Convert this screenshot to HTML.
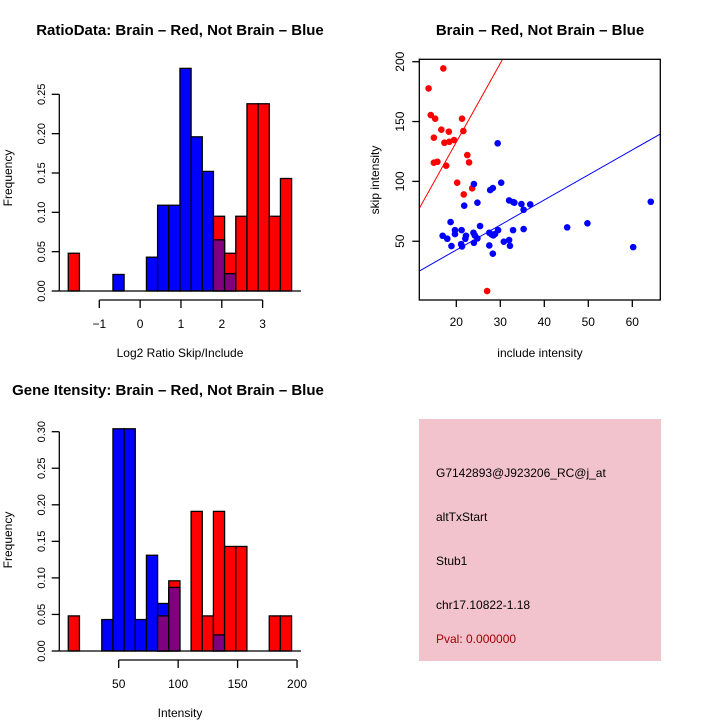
<!DOCTYPE html>
<html><head><meta charset="utf-8"><style>
body{margin:0;background:#fff}
svg{display:block;font-family:"Liberation Sans",sans-serif}
</style></head><body>
<svg id="s" width="720" height="720" viewBox="0 0 720 720">
<rect width="720" height="720" fill="#fff"/>
<text x="180" y="35" font-size="15" font-weight="bold" text-anchor="middle">RatioData: Brain – Red, Not Brain – Blue</text>
<text x="540" y="35" font-size="15" font-weight="bold" text-anchor="middle">Brain – Red, Not Brain – Blue</text>
<text x="168" y="395" font-size="15" font-weight="bold" text-anchor="middle">Gene Itensity: Brain – Red, Not Brain – Blue</text>
<text x="180" y="357" font-size="12" text-anchor="middle">Log2 Ratio Skip/Include</text>
<text x="540" y="357" font-size="12" text-anchor="middle">include intensity</text>
<text x="180" y="717" font-size="12" text-anchor="middle">Intensity</text>
<text transform="translate(12,178) rotate(-90)" font-size="12" text-anchor="middle">Frequency</text>
<text transform="translate(12,540) rotate(-90)" font-size="12" text-anchor="middle">Frequency</text>
<text transform="translate(379,180) rotate(-90)" font-size="12" text-anchor="middle">skip intensity</text>
<g id="h1"></g>
<g id="h2"></g>
<g id="sc"></g>
<g>
<rect x="419" y="419" width="242" height="242" fill="#f2c3cd"/>
<text x="436" y="477" font-size="12">G7142893@J923206_RC@j_at</text>
<text x="436" y="521" font-size="12">altTxStart</text>
<text x="436" y="565" font-size="12">Stub1</text>
<text x="436" y="609" font-size="12">chr17.10822-1.18</text>
<text x="436" y="643" font-size="12" fill="#a00000">Pval: 0.000000</text>
</g>
</svg>
<script>
const ratioRed=[0.048,0,0,0,0,0,0,0,0,0,0,0,0,0.095,0.048,0.095,0.238,0.238,0.095,0.143];
const ratioBlue=[0,0,0,0,0.021,0,0,0.043,0.109,0.109,0.283,0.196,0.152,0.065,0.022,0,0,0,0,0];
const ratioStart=-1.76, ratioWidth=0.2735;
const ratioXTicks=[-1,0,1,2,3];
const ratioYTicks=[0,0.05,0.10,0.15,0.20,0.25];
const intRed=[0.048,0,0,0,0,0,0,0,0.048,0.096,0,0.191,0.048,0.191,0.143,0.143,0,0,0.048,0.048];
const intBlue=[0,0,0,0.043,0.304,0.304,0.043,0.131,0.065,0.087,0,0,0,0.022,0,0,0,0,0,0];
const intStart=7.6, intWidth=9.39;
const intXTicks=[50,100,150,200];
const intYTicks=[0,0.05,0.10,0.15,0.20,0.25,0.30];
const redX=[17.05,13.7,14.2,15.2,14.9,16.6,18.3,17.3,18.4,19.5,21.3,21.6,14.9,15.7,17.7,22.5,22.9,20.2,21.7,23.6,27.0];
const redY=[194.4,177.7,155.4,152.4,136.5,143.2,141.5,132.3,133.1,134.5,152.4,142.1,115.6,116.4,113.1,122.0,115.9,98.9,89.1,94.2,8.4];
const blueX=[29.4,24.0,30.2,27.7,28.3,24.8,21.8,32.0,32.95,33.2,34.8,35.3,36.8,18.7,19.7,19.7,21.2,16.9,17.95,18.9,21.1,21.3,22.2,22.05,25.4,23.9,24.2,24.8,24.0,27.5,27.5,28.0,28.4,28.8,29.5,28.3,30.8,32.0,32.2,32.9,35.3,45.2,49.8,60.2,64.2];
const blueY=[131.8,97.8,98.9,92.8,94.4,82.2,79.7,84.1,82.7,82.2,81.1,76.3,80.8,66.0,59.3,56.0,59.3,54.6,52.1,46.0,47.6,45.7,54.6,52.1,62.7,57.1,54.9,52.4,48.7,46.5,57.1,55.7,54.9,56.0,59.3,39.6,49.6,51.0,46.2,59.3,60.2,61.6,65.0,45.1,83.0];
const redFit=[1.2,6.58], blueFit=[0.9,2.09];
const scXTicks=[20,30,40,50,60];
const scYTicks=[50,100,150,200];
const NS='http://www.w3.org/2000/svg';
function mk(p,t,a){const e=document.createElementNS(NS,t);for(const k in a)e.setAttribute(k,a[k]);p.appendChild(e);return e;}
function hist(g,red,blue,start,w,xt,yt,X,Y,base,axisY,xlab,ylab){
  const n=red.length;
  for(let i=0;i<n;i++){
    const x0=X(start+i*w),x1=X(start+(i+1)*w);
    const r=red[i],b=blue[i];
    if(r>0){const e=mk(g,'rect',{x:x0,y:Y(r),width:x1-x0,height:base-Y(r),fill:'#ff0000',stroke:'#000','stroke-width':1.3});
      
      }
    if(b>0){const e=mk(g,'rect',{x:x0,y:Y(b),width:x1-x0,height:base-Y(b),fill:r>0&&b<=r?'#800080':'#0000ff',stroke:'#000','stroke-width':1.3});
      
      
      if(r>0&&b>r){const p=mk(g,'rect',{x:x0,y:Y(r),width:x1-x0,height:base-Y(r),fill:'#800080',stroke:'#000','stroke-width':1.3});
        
        }}
  }
  mk(g,'line',{x1:59.3,x2:301,y1:base,y2:base,stroke:'#000','stroke-width':1.3});
  mk(g,'line',{x1:59.3,x2:59.3,y1:Y(yt[0]),y2:Y(yt[yt.length-1]),stroke:'#000','stroke-width':1.3});
  yt.forEach((v,i)=>{mk(g,'line',{x1:51.7,x2:59.3,y1:Y(v),y2:Y(v),stroke:'#000','stroke-width':1.3});
    const t=mk(g,'text',{transform:`translate(45,${Y(v)}) rotate(-90)`,'font-size':11,'text-anchor':'middle'});t.textContent=ylab[i];
    
    });
  mk(g,'line',{x1:X(xt[0]),x2:X(xt[xt.length-1]),y1:axisY,y2:axisY,stroke:'#000','stroke-width':1.3});
  xt.forEach((v,i)=>{mk(g,'line',{x1:X(v),x2:X(v),y1:axisY,y2:axisY+8,stroke:'#000','stroke-width':1.3});
    const t=mk(g,'text',{x:X(v),y:axisY+28,'font-size':12,'text-anchor':'middle'});t.textContent=xlab[i];
    
    });
}
const fmt2=v=>v.toFixed(2);
hist(document.getElementById('h1'),ratioRed,ratioBlue,ratioStart,ratioWidth,ratioXTicks,ratioYTicks,
  v=>99.3+(v+1)*40.83, v=>291-v*786.7, 291, 300, ratioXTicks.map(v=>v<0?'−'+(-v):''+v), ratioYTicks.map(fmt2));
hist(document.getElementById('h2'),intRed,intBlue,intStart,intWidth,intXTicks,intYTicks,
  v=>118.7+(v-50)*1.189, v=>651-v*731, 651, 660, intXTicks.map(String), intYTicks.map(fmt2));
// scatter
const g=document.getElementById('sc');
const SX=v=>456.3+(v-20)*4.4, SY=v=>61.7+(200-v)*1.197;
const L=419.3,R=660.3,T=59.3,B=300;
mk(g,'defs',{}).innerHTML='<clipPath id="cp"><rect x="419.3" y="59.3" width="241" height="240.7"/></clipPath>';
const x0=11.59,x1=66.36;
[[redFit,'#ff0000','red-fit-line'],[blueFit,'#0000ff','blue-fit-line']].forEach(([f,c,n])=>{
  const e=mk(g,'line',{x1:SX(x0),y1:SY(f[0]+f[1]*x0),x2:SX(x1),y2:SY(f[0]+f[1]*x1),stroke:c,'stroke-width':1,'clip-path':'url(#cp)'});
  
  });
redX.forEach((v,i)=>{const c=mk(g,'circle',{cx:SX(v),cy:SY(redY[i]),r:3.3,fill:'#ff0000'});
  
  });
blueX.forEach((v,i)=>{const c=mk(g,'circle',{cx:SX(v),cy:SY(blueY[i]),r:3.3,fill:'#0000ff'});
  
  });
mk(g,'rect',{x:L,y:T,width:R-L,height:B-T,fill:'none',stroke:'#000','stroke-width':1.3});
scXTicks.forEach(v=>{mk(g,'line',{x1:SX(v),x2:SX(v),y1:B,y2:B+7,stroke:'#000','stroke-width':1.3});
  const t=mk(g,'text',{x:SX(v),y:B+26,'font-size':12,'text-anchor':'middle'});t.textContent=v;
  
  });
scYTicks.forEach(v=>{mk(g,'line',{x1:L-7,x2:L,y1:SY(v),y2:SY(v),stroke:'#000','stroke-width':1.3});
  const t=mk(g,'text',{transform:`translate(404,${SY(v)}) rotate(-90)`,'font-size':12,'text-anchor':'middle'});t.textContent=v;
  
  });
</script>
</body></html>
